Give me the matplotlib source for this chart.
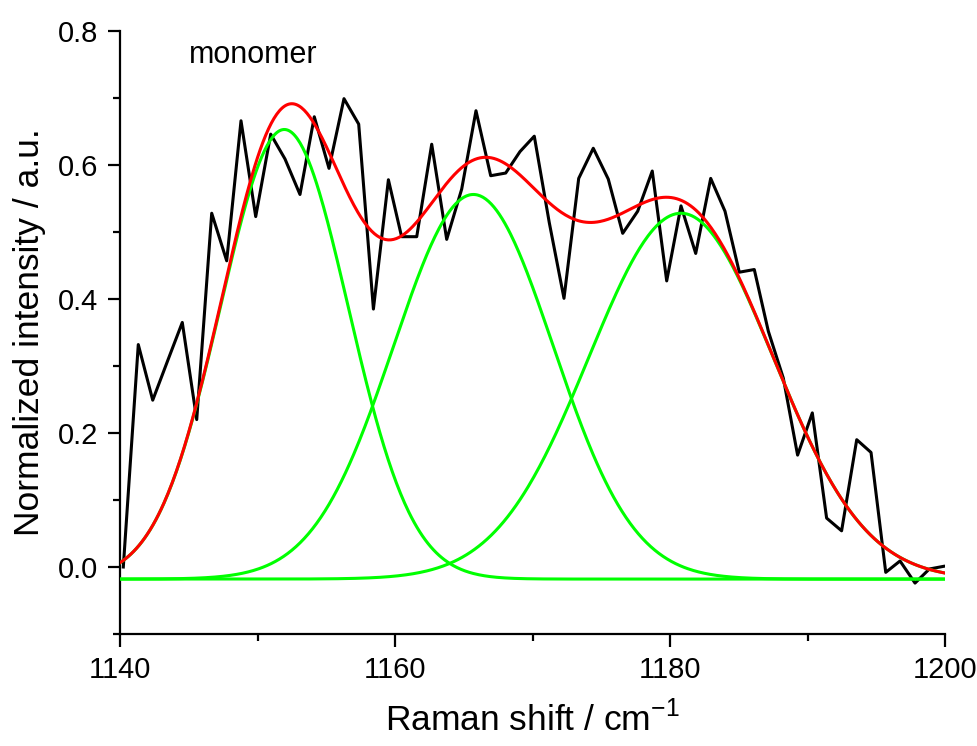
import matplotlib
matplotlib.use("Agg")
import matplotlib.pyplot as plt
import numpy as np

plt.rcParams['font.family'] = 'sans-serif'
plt.rcParams['font.sans-serif'] = ['Liberation Sans', 'Arial', 'DejaVu Sans']

# measured spectrum (monomer)
shift = [1140.24, 1141.33, 1142.38, 1143.45, 1144.53, 1145.58, 1146.67, 1147.76,
         1148.80, 1149.87, 1150.96, 1152.00, 1153.09, 1154.13, 1155.20, 1156.29,
         1157.36, 1158.43, 1159.52, 1160.48, 1161.58, 1162.67, 1163.76, 1164.85,
         1165.89, 1166.96, 1168.05, 1169.09, 1170.13, 1171.22, 1172.29, 1173.36,
         1174.42, 1175.51, 1176.56, 1177.65, 1178.71, 1179.76, 1180.80, 1181.87,
         1182.96, 1184.00, 1185.04, 1186.13, 1187.15, 1188.24, 1189.28, 1190.35,
         1191.39, 1192.48, 1193.58, 1194.62, 1195.69, 1196.73, 1197.82, 1198.86,
         1199.90]
intensity = [0.000, 0.332, 0.249, 0.307, 0.365, 0.220, 0.528, 0.457,
             0.666, 0.523, 0.646, 0.609, 0.556, 0.672, 0.595, 0.699,
             0.661, 0.385, 0.578, 0.493, 0.493, 0.631, 0.489, 0.564,
             0.681, 0.584, 0.588, 0.620, 0.643, 0.514, 0.401, 0.580,
             0.625, 0.579, 0.498, 0.531, 0.591, 0.427, 0.539, 0.468,
             0.580, 0.531, 0.440, 0.444, 0.352, 0.282, 0.167, 0.230,
             0.073, 0.054, 0.190, 0.171, -0.008, 0.009, -0.024, -0.003,
             0.001]

# Gaussian fit parameters
baseline = -0.018
centers = [1151.95, 1165.7, 1180.8]
amps = [0.671, 0.574, 0.546]
sigmas = [4.64, 5.8, 6.7]

xf = np.linspace(1140, 1200, 601)
comps = [a * np.exp(-(xf - c) ** 2 / (2 * s ** 2)) for c, a, s in zip(centers, amps, sigmas)]
total = baseline + np.sum(comps, axis=0)

fig = plt.figure(figsize=(9.77, 7.46), dpi=100)
ax = fig.add_axes([120 / 977, 1 - 634 / 746, 825 / 977, 603 / 746])

ax.plot(shift, intensity, color='black', lw=2.2, zorder=2)
for g in comps:
    ax.plot(xf, baseline + g, color='#00ff00', lw=2.2, zorder=3)
ax.plot(xf, total, color='#ff0000', lw=2.2, zorder=4)

ax.text(1145.0, 0.764, 'monomer', fontsize=22, va='center', ha='left')

ax.set_xlim(1140, 1200)
ax.set_ylim(-0.1, 0.8)
ax.set_xticks([1140, 1160, 1180, 1200])
ax.set_xticks([1150, 1170, 1190], minor=True)
ax.set_yticks([0.0, 0.2, 0.4, 0.6, 0.8])
ax.set_yticklabels(['0.0', '0.2', '0.4', '0.6', '0.8'])
ax.set_yticks([-0.1, 0.1, 0.3, 0.5, 0.7], minor=True)

for side in ['top', 'right']:
    ax.spines[side].set_visible(False)
for side in ['left', 'bottom']:
    ax.spines[side].set_linewidth(1.6)

ax.tick_params(which='major', direction='out', length=9, width=1.6, labelsize=21, pad=7)
ax.tick_params(which='minor', direction='out', length=5, width=1.6)

ax.set_xlabel('Raman shift / cm$^{\\mathregular{-1}}$', fontsize=25.5, labelpad=12)
ax.set_ylabel('Normalized intensity / a.u.', fontsize=25.5, labelpad=8)

fig.savefig('out.png', dpi=100)
